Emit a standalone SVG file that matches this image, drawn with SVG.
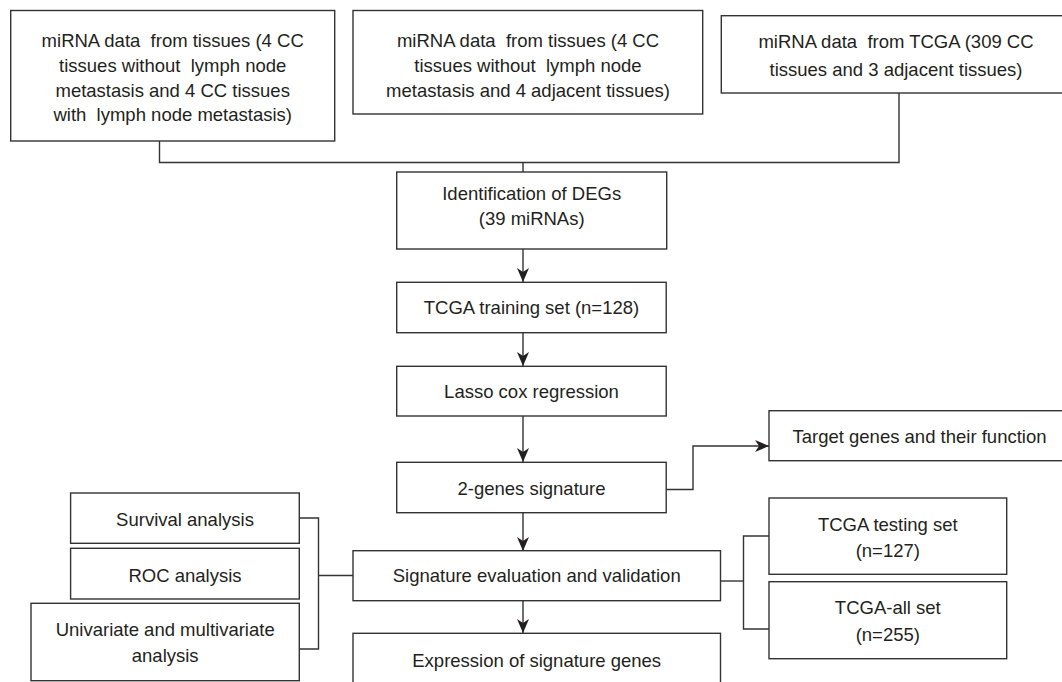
<svg xmlns="http://www.w3.org/2000/svg" width="1062" height="682" viewBox="0 0 1062 682" xml:space="preserve">
<style>
.box{fill:#fff;stroke:#333;stroke-width:1.4}
.ln{fill:none;stroke:#333;stroke-width:1.4}
.t{font-family:"Liberation Sans",Arial,Helvetica,sans-serif;font-size:18.5px;fill:#231f20;text-anchor:middle;white-space:pre}
</style>
<defs>
<marker id="arr" viewBox="0 0 14 12" refX="14" refY="6" markerWidth="14" markerHeight="12" markerUnits="userSpaceOnUse" orient="auto">
<path d="M0,0 L14,6 L0,12 L4,6 z" fill="#231f20"/>
</marker>
</defs>
<rect width="1062" height="682" fill="#fff"/>
<g id="connectors">
<polyline class="ln" points="159.5,141 159.5,162.5 899,162.5 899,93"/>
<line class="ln" x1="523" y1="162.5" x2="523" y2="172"/>
<line class="ln" x1="523" y1="249" x2="523" y2="282" marker-end="url(#arr)"/>
<line class="ln" x1="523" y1="333" x2="523" y2="366" marker-end="url(#arr)"/>
<line class="ln" x1="523" y1="416" x2="523" y2="462" marker-end="url(#arr)"/>
<line class="ln" x1="523" y1="513" x2="523" y2="551" marker-end="url(#arr)"/>
<line class="ln" x1="523" y1="601" x2="523" y2="633" marker-end="url(#arr)"/>
<polyline class="ln" points="666,489.5 693,489.5 693,446 769,446" marker-end="url(#arr)"/>
<polyline class="ln" points="299.3,518 318.5,518 318.5,649 299.3,649"/>
<line class="ln" x1="318.5" y1="575.5" x2="353" y2="575.5"/>
<line class="ln" x1="720.5" y1="581" x2="743.5" y2="581"/>
<polyline class="ln" points="769,536 743.5,536 743.5,629 769,629"/>
</g>
<g id="n1">
<rect class="box" x="10.7" y="10.5" width="324" height="130.5"/>
<text class="t" x="172.7" y="47">miRNA data  from tissues (4 CC</text>
<text class="t" x="172.7" y="72">tissues without  lymph node</text>
<text class="t" x="172.7" y="96.5">metastasis and 4 CC tissues</text>
<text class="t" x="172.7" y="121">with  lymph node metastasis)</text>
</g>
<g id="n2">
<rect class="box" x="353" y="10.5" width="349.7" height="103.5"/>
<text class="t" x="528" y="47">miRNA data  from tissues (4 CC</text>
<text class="t" x="528" y="72">tissues without  lymph node</text>
<text class="t" x="528" y="96.5">metastasis and 4 adjacent tissues)</text>
</g>
<g id="n3">
<rect class="box" x="721.3" y="15.7" width="360" height="77.3"/>
<text class="t" x="896" y="48">miRNA data  from TCGA (309 CC</text>
<text class="t" x="896" y="76">tissues and 3 adjacent tissues)</text>
</g>
<g id="n4">
<rect class="box" x="396.7" y="172" width="270" height="77"/>
<text class="t" x="531.7" y="200">Identification of DEGs</text>
<text class="t" x="531.7" y="225">(39 miRNAs)</text>
</g>
<g id="n5">
<rect class="box" x="396.7" y="282.3" width="269.5" height="50.4"/>
<text class="t" x="531.5" y="314">TCGA training set (n=128)</text>
</g>
<g id="n6">
<rect class="box" x="396.7" y="366.3" width="269.5" height="49.7"/>
<text class="t" x="531.5" y="398">Lasso cox regression</text>
</g>
<g id="n7">
<rect class="box" x="396.7" y="462.3" width="269.5" height="50.4"/>
<text class="t" x="531.5" y="495">2-genes signature</text>
</g>
<g id="n8">
<rect class="box" x="769" y="410.7" width="310" height="50"/>
<text class="t" x="919.5" y="443">Target genes and their function</text>
</g>
<g id="n9">
<rect class="box" x="353" y="550.7" width="367.5" height="50"/>
<text class="t" x="536.7" y="582">Signature evaluation and validation</text>
</g>
<g id="n10">
<rect class="box" x="353" y="633.3" width="367.5" height="60"/>
<text class="t" x="536.7" y="667">Expression of signature genes</text>
</g>
<g id="n11">
<rect class="box" x="70.6" y="493" width="228.7" height="50.3"/>
<text class="t" x="185" y="525.5">Survival analysis</text>
</g>
<g id="n12">
<rect class="box" x="70.6" y="548.3" width="228.7" height="50.7"/>
<text class="t" x="185" y="581.5">ROC analysis</text>
</g>
<g id="n13">
<rect class="box" x="31" y="603.3" width="268.3" height="77.4"/>
<text class="t" x="165.2" y="635.5">Univariate and multivariate</text>
<text class="t" x="165.2" y="662">analysis</text>
</g>
<g id="n14">
<rect class="box" x="769" y="498" width="237.7" height="76.3"/>
<text class="t" x="887.8" y="530.5">TCGA testing set</text>
<text class="t" x="887.8" y="556.5">(n=127)</text>
</g>
<g id="n15">
<rect class="box" x="769" y="581.7" width="237.7" height="77"/>
<text class="t" x="887.8" y="614">TCGA-all set</text>
<text class="t" x="887.8" y="640.5">(n=255)</text>
</g>
</svg>
